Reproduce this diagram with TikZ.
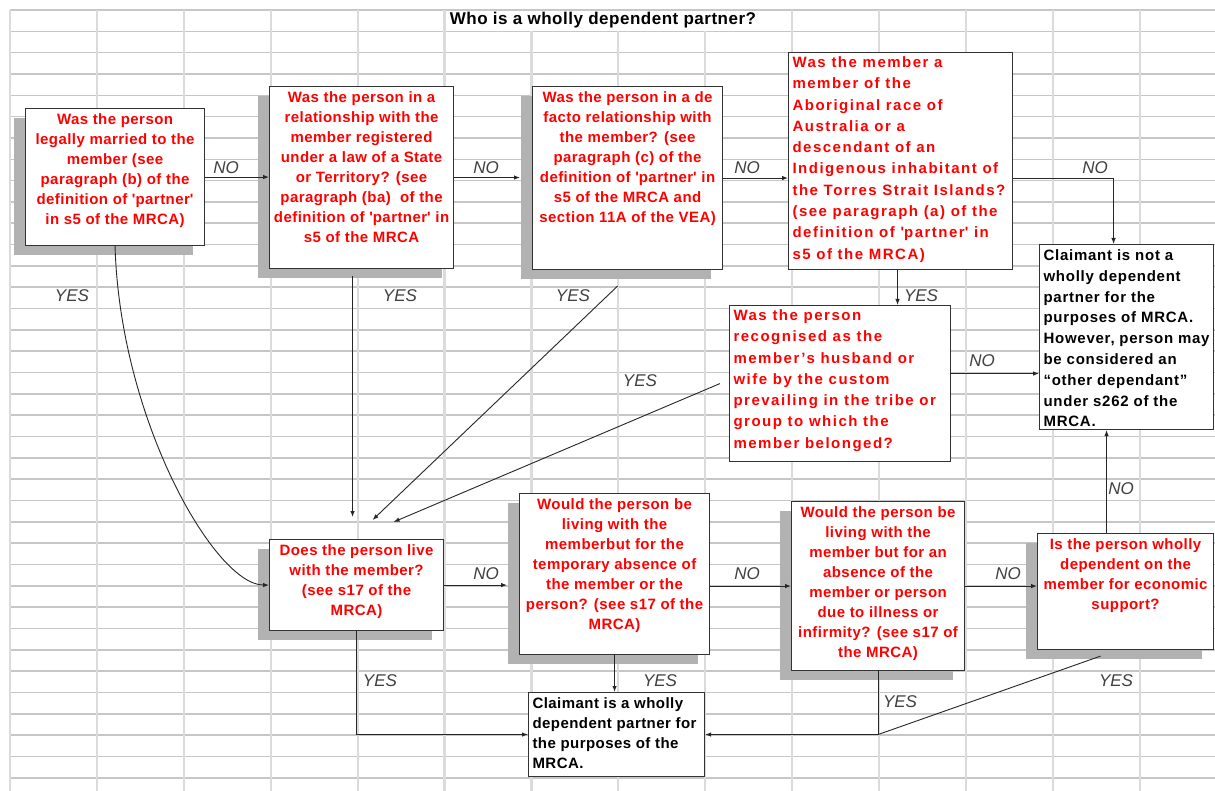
\documentclass[tikz,border=0pt]{standalone}
\usepackage{fontspec}
\setmainfont{Liberation Sans}
\usetikzlibrary{arrows.meta,shadows}
\newcommand\qbx[3]{\parbox[t][#2][t]{#1}{#3}}
\tikzset{
  box/.style={draw=black!80, line width=1.1pt, fill=white, inner xsep=4pt, inner ysep=5pt, anchor=north west},
  shad/.style={drop shadow={shadow xshift=-12pt,shadow yshift=-9pt,fill=black!30,opacity=1}},
  fstd/.style={font=\fontsize{15}{20}\selectfont\bfseries\addfontfeature{LetterSpace=3}},
  fwide/.style={font=\fontsize{15}{21.3}\selectfont\bfseries\addfontfeature{LetterSpace=10}},
  fmid/.style={font=\fontsize{15}{20.8}\selectfont\bfseries\addfontfeature{LetterSpace=5}},
  rq/.style={text=red},
  bq/.style={text=black},
  lab/.style={font=\fontsize{17}{17}\selectfont\itshape, text=black!75, inner sep=0pt},
  conn/.style={draw=black!85, line width=0.9pt},
  arr/.style={conn, -{Latex[length=6pt,width=4.5pt]}},
  hline/.style={draw=black!22, line width=1.6pt},
  vline/.style={draw=black!14, line width=2.2pt}
}
\begin{document}
\begin{tikzpicture}[x=1pt,y=-1pt]
\useasboundingbox (0,0) rectangle (1215,791);
\fill[white] (0,0) rectangle (1215,791);
% spreadsheet grid
\foreach \k in {0,...,36} { \draw[hline] (10,10+21.33*\k) -- (1215,10+21.33*\k); }
\foreach \k in {0,1,2,3,4,5,9,10,11,12,13} { \draw[vline] (10+86.9*\k,10) -- (10+86.9*\k,791); }
\foreach \k in {6,7,8} { \draw[vline] (10+86.9*\k,31.3) -- (10+86.9*\k,791); }

\node[font=\fontsize{17}{17}\selectfont\bfseries\addfontfeature{LetterSpace=3}, inner sep=0pt] (T) at (603,20) {Who is a wholly dependent partner?};

% boxes
\node[box,shad,fstd,rq] (A) at (25,108) {\qbx{171pt}{127pt}{\centering Was the person\\legally married to the\\member (see\\paragraph (b) of the\\definition of \textquotesingle partner\textquotesingle\\in s5 of the MRCA)}};
\node[box,shad,fstd,rq] (B) at (269,86) {\qbx{176pt}{172pt}{\centering Was the person in a\\relationship with the\\member registered\\under a law of a State\\or Territory? (see\\paragraph (ba) \ of the\\definition of \textquotesingle partner\textquotesingle\ in\\s5 of the MRCA}};
\node[box,shad,fstd,rq] (C) at (532,86) {\qbx{182pt}{173pt}{\centering Was the person in a de\\facto relationship with\\the member? (see\\paragraph (c) of the\\definition of \textquotesingle partner\textquotesingle\ in\\s5 of the MRCA and\\section 11A of the VEA)}};
\node[box,fwide,rq,inner ysep=4pt] (D) at (788,52) {\qbx{216pt}{209pt}{\raggedright Was the member a\\member of the\\Aboriginal race of\\Australia or a\\descendant of an\\Indigenous inhabitant of\\the Torres Strait Islands?\\(see paragraph (a) of the\\definition of \textquotesingle partner\textquotesingle\ in\\s5 of the MRCA)}};
\node[box,fmid,bq] (E) at (1039,244) {\qbx{166pt}{175pt}{\raggedright Claimant is not a\\wholly dependent\\partner for the\\purposes of MRCA.\\However, person may\\be considered an\\``other dependant''\\under s262 of the\\MRCA.}};
\node[box,fwide,rq,inner ysep=4pt] (F) at (729,305) {\qbx{213pt}{148pt}{\raggedright Was the person\\recognised as the\\member's husband or\\wife by the custom\\prevailing in the tribe or\\group to which the\\member belonged?}};
\node[box,shad,fstd,rq] (G) at (269,539) {\qbx{166pt}{81pt}{\centering Does the person live\\with the member?\\(see s17 of the\\MRCA)}};
\node[box,shad,fstd,rq] (H) at (519,493) {\qbx{182pt}{151pt}{\centering Would the person be\\living with the\\memberbut for the\\temporary absence of\\the member or the\\person? (see s17 of the\\MRCA)}};
\node[box,shad,fstd,rq] (I) at (791,501) {\qbx{165pt}{159pt}{\centering Would the person be\\living with the\\member but for an\\absence of the\\member or person\\due to illness or\\infirmity? (see s17 of\\the MRCA)}};
\node[box,shad,fstd,rq] (J) at (1037,533) {\qbx{168pt}{106pt}{\centering Is the person wholly\\dependent on the\\member for economic\\support?}};
\node[box,fstd,bq] (K) at (528,692) {\qbx{168pt}{74pt}{\raggedright Claimant is a wholly\\dependent partner for\\the purposes of the\\MRCA.}};

% free ends above G
\coordinate (g1) at ([xshift=-4pt,yshift=22pt]G.north);
\coordinate (g2) at ([xshift=16pt,yshift=19pt]G.north);
\coordinate (g3) at ([xshift=37pt,yshift=17pt]G.north);
\coordinate (fe) at ([yshift=10pt]F.east);

% connectors
\draw[arr] (A.east) -- (B.west |- A.east);
\draw[arr] (B.east) -- ([xshift=-12pt]C.west |- B.east);
\draw[arr] (C.east) -- (D.west |- C.east);
\draw[arr] (D.east |- C.east) -| ([xshift=-13pt]E.north);
\draw[arr] ([xshift=-3pt]D.south) -- ([xshift=-3pt]D.south |- F.north);
\draw[arr] (fe) -- (E.west |- fe);
\draw[arr] ([xshift=-9pt]F.west) -- (g3);
\draw[arr] ([xshift=-10pt,yshift=-16pt]C.south) -- (g2);
\draw[arr] ([xshift=-9pt,yshift=-7pt]B.south) -- (g1);
\draw[arr] (A.south) .. controls (120,420) and (215,585) .. (G.west);
\draw[arr] (G.east) -- ([xshift=-12pt]H.west |- G.east);
\draw[arr] (H.east |- I.west) -- (I.west);
\draw[arr] (I.east) -- (J.west |- I.east);
\draw[arr] ([xshift=-19pt]J.north) -- ([xshift=-19pt]J.north |- E.south);
\draw[arr] (G.south) |- (K.west);
\draw[arr] (H.south) -- (H.south |- K.north);
\draw[arr] (I.south) |- (K.east);
\draw[conn] ([xshift=-25pt,yshift=-6pt]J.south) -- (I.south |- K.east);

% labels
\node[lab] (n1) at (226,168) {NO};
\node[lab] (y1) at (72,296) {YES};
\node[lab] (n2) at (486,168) {NO};
\node[lab] (y2) at (400,296) {YES};
\node[lab] (n3) at (747,168) {NO};
\node[lab] (y3) at (573,296) {YES};
\node[lab] (n4) at (1095,168) {NO};
\node[lab] (y4) at (921,296) {YES};
\node[lab] (n5) at (982,361) {NO};
\node[lab] (y5) at (640,381) {YES};
\node[lab] (n6) at (486,574) {NO};
\node[lab] (n7) at (747,574) {NO};
\node[lab] (n8) at (1008,574) {NO};
\node[lab] (n9) at (1121,489) {NO};
\node[lab] (y6) at (380,681) {YES};
\node[lab] (y7) at (660,681) {YES};
\node[lab] (y8) at (900,702) {YES};
\node[lab] (y9) at (1116,681) {YES};
\end{tikzpicture}
\end{document}
